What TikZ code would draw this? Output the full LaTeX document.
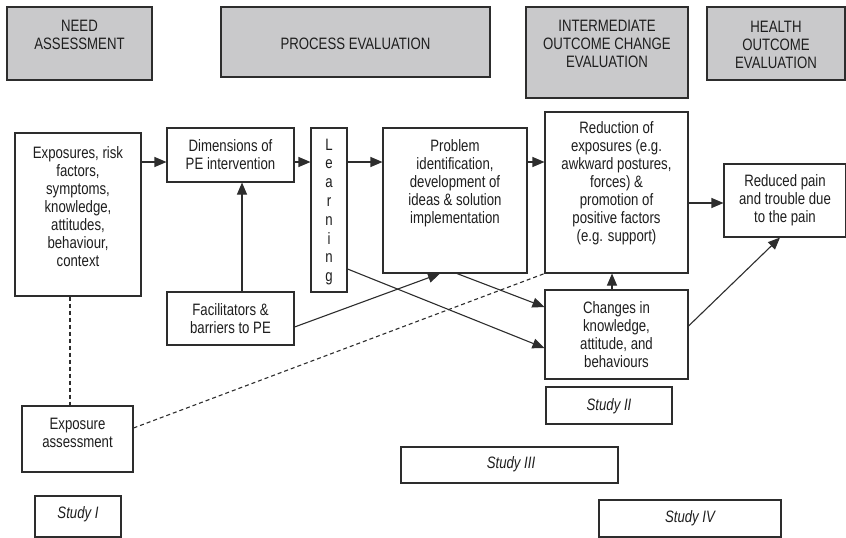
\documentclass[tikz,border=0pt]{standalone}
\usepackage{fontspec}
\setmainfont{Liberation Sans}[FakeStretch=0.8]
\usetikzlibrary{arrows.meta}
\definecolor{ln}{RGB}{45,45,45}
\definecolor{hdr}{RGB}{201,201,203}
\definecolor{tx}{RGB}{30,30,30}
\tikzset{
  box/.style={draw=ln, line width=1.1pt, fill=white, inner sep=0pt, anchor=center},
  hbox/.style={draw=ln, line width=1.1pt, fill=hdr, inner sep=0pt, anchor=center},
  txt/.style={inner sep=0pt, align=center, text=tx, font=\fontsize{16.5}{18}\selectfont},
  stxt/.style={inner sep=0pt, align=center, text=tx, font=\fontsize{16.5}{18}\selectfont\itshape},
  arr/.style={draw=ln, line width=1.1pt, -{Triangle[length=12pt,width=10pt]}},
  dline/.style={draw=ln, line width=1.1pt, dash pattern=on 4pt off 3pt}
}
\begin{document}
\begin{tikzpicture}[x=1pt,y=-1pt]
\useasboundingbox (0,0) rectangle (846,538);
\fill[white] (0,0) rectangle (846,538);
% header boxes
\node[hbox, minimum width=145pt, minimum height=73pt] (need) at (79.5,43.5) {};
\node[txt] (need-t) at (79.5,35) {NEED\\ASSESSMENT};
\node[hbox, minimum width=269pt, minimum height=70pt] (proc) at (355.5,42) {};
\node[txt] (proc-t) at (355.5,44) {PROCESS EVALUATION};
\node[hbox, minimum width=162pt, minimum height=91pt] (inter) at (607,52.5) {};
\node[txt] (inter-t) at (607,43.5) {INTERMEDIATE\\OUTCOME CHANGE\\EVALUATION};
\node[hbox, minimum width=138pt, minimum height=73pt] (health) at (776,43.5) {};
\node[txt] (health-t) at (776,44.5) {HEALTH\\OUTCOME\\EVALUATION};
% body boxes
\node[box, minimum width=126pt, minimum height=163pt] (expo) at (78,214.5) {};
\node[txt] (expo-t) at (78,207) {Exposures, risk\\factors,\\symptoms,\\knowledge,\\attitudes,\\behaviour,\\context};
\node[box, minimum width=127pt, minimum height=54pt] (dim) at (230.5,155) {};
\node[txt] (dim-t) at (230.5,155) {Dimensions of\\PE intervention};
\node[box, minimum width=36pt, minimum height=164pt] (learn) at (329,210) {};
\node[txt, font=\fontsize{16.5}{18.8}\selectfont] (learn-t) at (329,212) {L\\e\\a\\r\\n\\i\\n\\g};
\node[box, minimum width=144pt, minimum height=145pt] (prob) at (455,200.5) {};
\node[txt] (prob-t) at (455,183) {Problem\\identification,\\development of\\ideas \& solution\\implementation};
\node[box, minimum width=143pt, minimum height=161pt] (red) at (616.5,192.5) {};
\node[txt] (red-t) at (616.5,183) {Reduction of\\exposures (e.g.\\awkward postures,\\forces) \&\\promotion of\\positive factors\\(e.g. support)};
\node[box, minimum width=121.5pt, minimum height=73pt] (pain) at (784.75,200.5) {};
\node[txt] (pain-t) at (785,200) {Reduced pain\\and trouble due\\to the pain};
\node[box, minimum width=143pt, minimum height=89pt] (chg) at (616.5,334.5) {};
\node[txt] (chg-t) at (616.5,335) {Changes in\\knowledge,\\attitude, and\\behaviours};
\node[box, minimum width=127pt, minimum height=53pt] (fac) at (230.5,318.5) {};
\node[txt] (fac-t) at (230.5,319) {Facilitators \&\\barriers to PE};
\node[box, minimum width=111pt, minimum height=66pt] (expa) at (77.5,439) {};
\node[txt] (expa-t) at (77.5,433) {Exposure\\assessment};
% study boxes
\node[box, minimum width=86pt, minimum height=41pt] (s1) at (78,516.5) {};
\node[stxt] (s1-t) at (78,514) {Study I};
\node[box, minimum width=126pt, minimum height=37pt] (s2) at (609,405.5) {};
\node[stxt] (s2-t) at (609,406) {Study II};
\node[box, minimum width=217pt, minimum height=36pt] (s3) at (509.5,465) {};
\node[stxt] (s3-t) at (511,464) {Study III};
\node[box, minimum width=182pt, minimum height=37pt] (s4) at (690,518.5) {};
\node[stxt] (s4-t) at (690,518) {Study IV};
% helper coordinates
\coordinate (row) at (0,162);
\coordinate (row2) at (0,203);
\coordinate (cfac) at (242,0);
\coordinate (yfac) at (0,327);
\coordinate (xprob) at (440,0);
\coordinate (ylearn) at (0,269);
\coordinate (ychg) at (0,348);
\coordinate (xprob2) at (457,0);
\coordinate (ychg2) at (0,307);
\coordinate (xup) at (612,0);
\coordinate (ychg3) at (0,326);
\coordinate (xpain) at (780,0);
\coordinate (xdash) at (70,0);
\coordinate (ydash) at (0,428);
% connectors
\draw[arr] (expo.east |- row) -- (dim.west |- row);
\draw[arr] (dim.east |- row) -- (learn.west |- row);
\draw[arr] (learn.east |- row) -- (prob.west |- row);
\draw[arr] (prob.east |- row) -- (red.west |- row);
\draw[arr] (red.east |- row2) -- (pain.west |- row2);
\draw[arr] (fac.north -| cfac) -- (dim.south -| cfac);
\draw[arr] (fac.east |- yfac) -- (prob.south -| xprob);
\draw[arr] (learn.east |- ylearn) -- (chg.west |- ychg);
\draw[arr] (prob.south -| xprob2) -- (chg.west |- ychg2);
\draw[arr] (chg.north -| xup) -- (red.south -| xup);
\draw[arr] (chg.east |- ychg3) -- (pain.south -| xpain);
\draw[dline] (expo.south -| xdash) -- (expa.north -| xdash);
\draw[dline] (expa.east |- ydash) -- (red.south west);
\end{tikzpicture}
\end{document}
